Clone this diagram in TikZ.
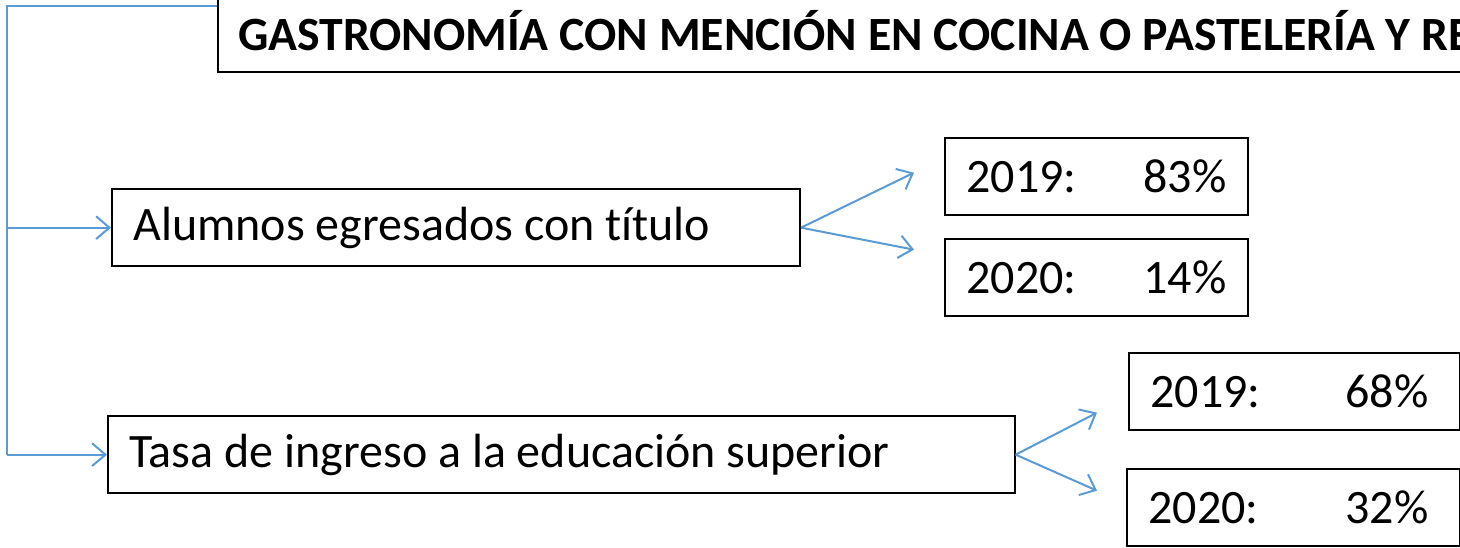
\documentclass[tikz,border=0pt]{standalone}
\usepackage{fontspec}
\setmainfont{Carlito}[Ligatures=NoCommon]
\usepackage{xcolor}
\usepackage{tikz}
\usetikzlibrary{arrows.meta, calc, positioning}
\definecolor{linkblue}{HTML}{5B9BD5}
\tikzstyle{box} = [rectangle, draw=black, line width=1.5pt, inner xsep=16pt, inner ysep=0pt, anchor=north west, align=flush left, font=\fontsize{36}{42}\selectfont]
\tikzstyle{title} = [box, anchor=south west, inner xsep=15pt, font=\fontsize{35.8}{42}\selectfont\bfseries]
\tikzstyle{link} = [draw=linkblue, line width=1.5pt, -{Straight Barb[length=10pt,width=17pt]}]
\tikzstyle{trunk} = [draw=linkblue, line width=1pt]

\begin{document}
\begin{tikzpicture}[x=0.75pt, y=-0.75pt]
		\useasboundingbox (0,0) rectangle (1460,547);
		\clip (0,0) rectangle (1460,547);
		\node (title) [title, minimum height=62pt, text width=1000pt] at (217,73) {GASTRONOMÍA CON MENCIÓN EN COCINA O PASTELERÍA Y RE};
		\node (alumnos) [box, minimum height=58pt, text width=484pt] at (111,188) {Alumnos egresados con título};
		\node (tasa) [box, minimum height=58pt, text width=648pt] at (107,415) {Tasa de ingreso a la educación superior};
		\node (alu19) [box, minimum height=58pt, text width=195pt] at (944,137) {2019:\hfill 83\%};
		\node (alu20) [box, minimum height=58pt, text width=195pt] at (944,238) {2020:\hfill 14\%};
		\node (tasa19) [box, minimum height=58pt, text width=216pt] at (1128,352) {2019:\hfill 68\%\kern7.5pt};
		\node (tasa20) [box, minimum height=58pt, text width=217.5pt] at (1126,468) {2020:\hfill 32\%\kern7.5pt};
		% left bracket from the title
		\coordinate (corner) at (7,6);
		\draw[trunk] (title.west |- corner) -- (corner) -- (corner |- tasa.west);
		\draw[link] (corner |- alumnos.west) -- (alumnos.west);
		\draw[link] (corner |- tasa.west) -- (tasa.west);
		% split arrows
		\draw[link] (alumnos.east) -- ($(alu19.west)+(-30,-4)$);
		\draw[link] (alumnos.east) -- ($(alu20.west)+(-30,-28)$);
		\draw[link] (tasa.east) -- ($(tasa19.west)+(-31,21)$);
		\draw[link] (tasa.east) -- ($(tasa20.west)+(-29,-17)$);
	\end{tikzpicture}
\end{document}
